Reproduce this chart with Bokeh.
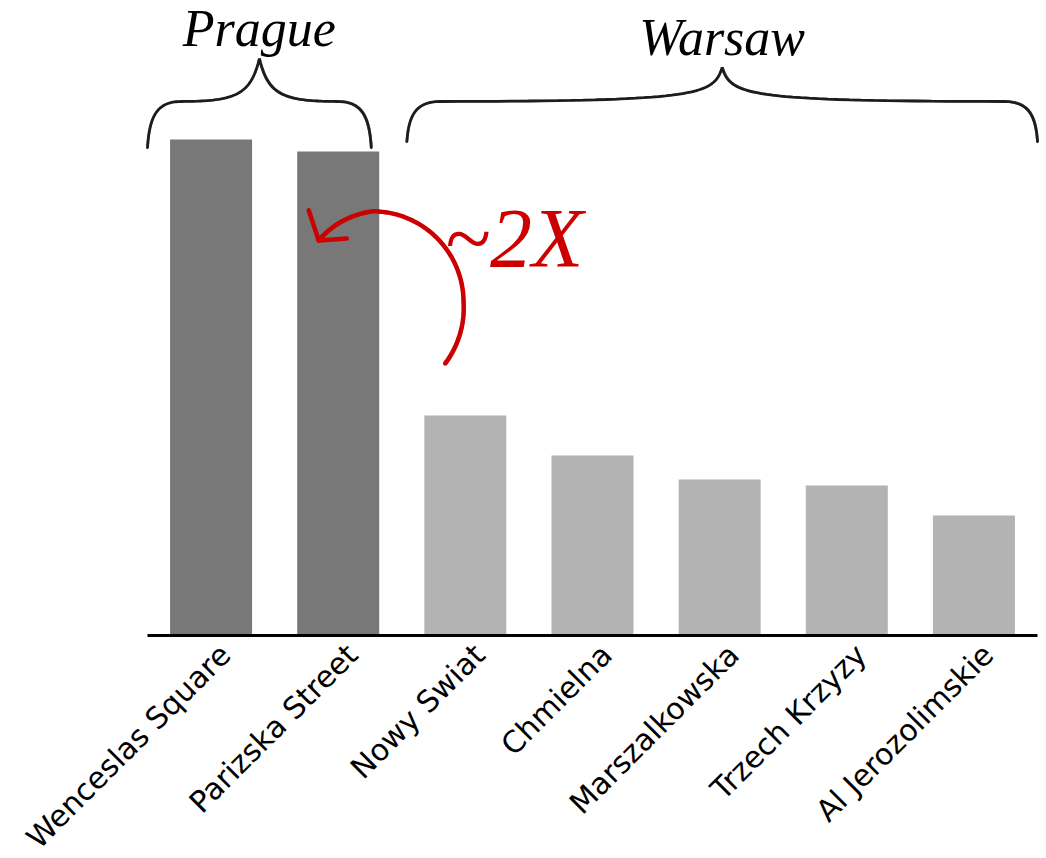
import numpy as np
from bokeh.plotting import figure
from bokeh.models import Range1d
from bokeh.core.properties import value
from bokeh.embed import file_html
from bokeh.resources import INLINE

# Street rents, Prague vs Warsaw
streets = ["Wenceslas Square", "Parizska Street", "Nowy Swiat", "Chmielna",
           "Marszalkowska", "Trzech Krzyzy", "Al Jerozolimskie"]
cities = ["Prague", "Prague", "Warsaw", "Warsaw", "Warsaw", "Warsaw", "Warsaw"]
rent = [124, 121, 55, 45, 39, 37.5, 30]

city_colors = {"Prague": "#787878", "Warsaw": "#b3b3b3"}
ink = "#1e1e1e"
red = "#cc0000"

W, H = 1046, 858
LEFT, RIGHT, BOTTOM = 147, 9, 223          # room for the rotated street names
N = len(streets)
PXX = (W - LEFT - RIGHT) / N               # px per category
Y_TOP = 158.75
PXY = (H - BOTTOM) / Y_TOP                 # px per rent unit

# The plotting frame fills the whole canvas; the bars occupy [0, N] x [0, Y_TOP]
p = figure(width=W, height=H,
           x_range=Range1d(-LEFT / PXX, N + RIGHT / PXX),
           y_range=Range1d(-BOTTOM / PXY, Y_TOP),
           output_backend="svg", toolbar_location=None,
           x_axis_location=None, y_axis_location=None,
           min_border=0)
p.grid.visible = False
p.outline_line_color = None
p.background_fill_color = "white"
p.border_fill_color = "white"

xs = [i + 0.5 for i in range(N)]
p.vbar(x=xs, top=rent, bottom=0, width=0.645,
       color=[city_colors[c] for c in cities], line_color=None)

# Baseline
p.segment(x0=[0], y0=[0], x1=[N], y1=[0], line_color="black", line_width=3)

# Street names, rotated 45 degrees and ending just right of each bar centre
p.text(x=[x + 14 / PXX for x in xs], y=[-14 / PXY] * N, text=streets,
       angle=np.pi / 4, text_align="right", text_baseline="middle",
       text_font=value("DejaVu Sans"), text_font_size="30px", text_color="black")


def to_data(px_pts):
    """Offsets in screen pixels -> data units."""
    pts = np.asarray(px_pts, dtype=float)
    return pts[:, 0] / PXX, pts[:, 1] / PXY


def cubic(p0, c0, c1, p1, n=40):
    t = np.linspace(0, 1, n)[:, None]
    p0, c0, c1, p1 = map(np.asarray, (p0, c0, c1, p1))
    return (1 - t) ** 3 * p0 + 3 * (1 - t) ** 2 * t * c0 + 3 * (1 - t) * t ** 2 * c1 + t ** 3 * p1


def sketch_line(x, y, color, width, passes=((0.8, 0.6), (-0.7, -0.5)), alpha=0.55):
    p.line(x, y, line_color=color, line_width=width, line_cap="round")
    for dx, dy in passes:
        p.line(x + dx / PXX, y + dy / PXY, line_color=color,
               line_width=max(1.0, width * 0.45), line_alpha=alpha, line_cap="round")


def brace(x0, x1, y_end, y_bar, y_peak):
    """Curly brace over [x0, x1] (data units), drawn in pixel space."""
    w = (x1 - x0) * PXX
    h_bar = (y_bar - y_end) * PXY
    h_peak = (y_peak - y_end) * PXY
    m = w / 2
    left = np.vstack([
        cubic((0, 0), (2, h_bar * 0.7), (10, h_bar), (34, h_bar)),
        cubic((34, h_bar), (m - 24, h_bar + 0.5), (m - 9, h_bar + 6), (m, h_peak)),
    ])
    right = left[::-1].copy()
    right[:, 0] = w - right[:, 0]
    pts = np.vstack([left, right])
    bx, by = to_data(pts)
    sketch_line(bx + x0, by + y_end, ink, 2.8)


brace_spans = {"Prague": (0.0, 1.76, 122.0, 133.5, 144.2),
               "Warsaw": (2.04, 7.0, 123.5, 133.5, 142.0)}
for city, (x0, x1, ye, yb, yp) in brace_spans.items():
    brace(x0, x1, ye, yb, yp)
    p.text(x=[(x0 + x1) / 2], y=[yp + 7.5], text=[city],
           text_font=value("Liberation Serif"), text_font_style="italic",
           text_font_size="52px", text_color="black",
           text_align="center", text_baseline="middle")

# Red curved arrow from the Warsaw bars back to Parizska Street
cx, cy = 1.77, 83.3
theta = np.radians(np.linspace(-40, 131, 120))
r = np.interp(np.degrees(theta), [-40, 0, 90, 131], [95, 91, 91, 82])
arc_x = cx + r * np.cos(theta) / PXX
arc_y = cy + r * np.sin(theta) / PXY
p.line(arc_x, arc_y, line_color=red, line_width=4.5, line_cap="round")
p.line(arc_x + 1.2 / PXX, arc_y - 1.0 / PXY, line_color=red, line_width=1.5,
       line_alpha=0.5)
p.line(arc_x - 1.0 / PXX, arc_y + 1.2 / PXY, line_color=red, line_width=1.5,
       line_alpha=0.5)
tip_x, tip_y = arc_x[-1], arc_y[-1]
for vx, vy in [(-10, 30), (28, 2)]:
    p.line([tip_x, tip_x + vx / PXX], [tip_y, tip_y + vy / PXY],
           line_color=red, line_width=4.5, line_cap="round")

p.text(x=[cx + 72 / PXX], y=[cy + 64 / PXY], text=["~2X"],
       text_font=value("Liberation Serif"), text_font_style="italic",
       text_font_size="84px", text_color=red,
       text_align="left", text_baseline="middle")

open("out.html", "w").write(file_html(p, INLINE))
